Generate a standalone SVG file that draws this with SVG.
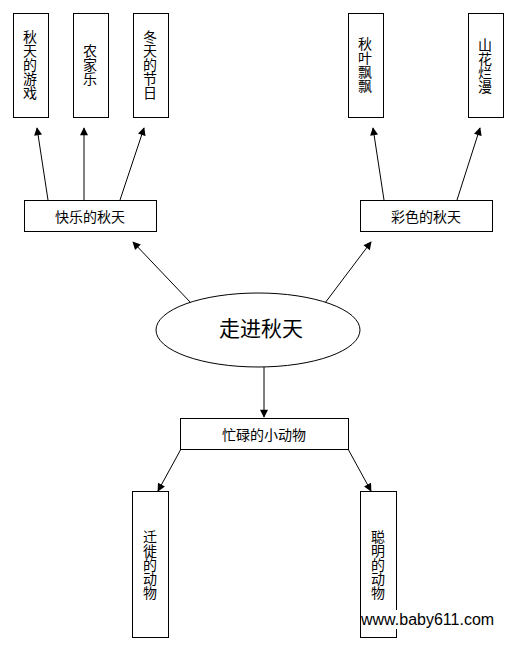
<svg xmlns="http://www.w3.org/2000/svg" width="509" height="646" viewBox="0 0 509 646">
<style>
.box{fill:#fff;stroke:#000;stroke-width:1}
.t{font-family:"Noto Sans CJK SC","Liberation Sans",sans-serif;font-size:14px;fill:#000;text-anchor:middle;dominant-baseline:central}
.v{writing-mode:vertical-rl;font-size:14px}
.big{font-size:21px}
.c{stroke:#000;stroke-width:1;fill:none;marker-end:url(#ah)}
</style>
<defs>
<marker id="ah" viewBox="0 0 10 10" refX="9" refY="5" markerWidth="9" markerHeight="8" markerUnits="userSpaceOnUse" orient="auto">
<path d="M0,0 L10,5 L0,10 z" fill="#000"/>
</marker>
</defs>
<rect width="509" height="646" fill="#fff"/>
<g id="connectors">
<line class="c" x1="48" y1="200" x2="37" y2="128"/>
<line class="c" x1="84" y1="200" x2="84" y2="128"/>
<line class="c" x1="120" y1="200" x2="144" y2="128"/>
<line class="c" x1="384" y1="200" x2="373" y2="128"/>
<line class="c" x1="457" y1="200" x2="480" y2="128"/>
<line class="c" x1="191" y1="303" x2="133" y2="242"/>
<line class="c" x1="325" y1="303" x2="371" y2="242"/>
<line class="c" x1="264" y1="367" x2="264" y2="417"/>
<line class="c" x1="181" y1="449" x2="158" y2="491"/>
<line class="c" x1="348" y1="449" x2="371" y2="491"/>
</g>
<g id="n-game"><rect class="box" x="13.5" y="13.5" width="35" height="104"/><text class="t v" x="30" y="65">秋天的游戏</text></g>
<g id="n-farm"><rect class="box" x="73.5" y="13.5" width="35" height="104"/><text class="t v" x="90" y="65">农家乐</text></g>
<g id="n-winter"><rect class="box" x="133.5" y="13.5" width="35" height="104"/><text class="t v" x="150" y="65">冬天的节日</text></g>
<g id="n-leaves"><rect class="box" x="348.5" y="13.5" width="35" height="104"/><text class="t v" x="365" y="65">秋叶飘飘</text></g>
<g id="n-flowers"><rect class="box" x="468.5" y="13.5" width="35" height="104"/><text class="t v" x="485" y="66">山花烂漫</text></g>
<g id="n-happy"><rect class="box" x="24.5" y="200.5" width="132" height="31"/><text class="t" x="90" y="216">快乐的秋天</text></g>
<g id="n-colorful"><rect class="box" x="360.5" y="200.5" width="132" height="31"/><text class="t" x="426" y="216">彩色的秋天</text></g>
<g id="n-root"><ellipse class="box" cx="258" cy="330" rx="102" ry="37"/><text class="t big" x="261" y="327">走进秋天</text></g>
<g id="n-busy"><rect class="box" x="180.5" y="418.5" width="168" height="31"/><text class="t" x="264" y="434">忙碌的小动物</text></g>
<g id="n-migrate"><rect class="box" x="132.5" y="491.5" width="36" height="146"/><text class="t v" x="150" y="565">迁徙的动物</text></g>
<g id="n-smart"><rect class="box" x="360.5" y="491.5" width="36" height="146"/><text class="t v" x="378" y="565">聪明的动物</text></g>
<g id="watermark"><rect x="361" y="610" width="136" height="19" fill="#fff"/><text x="361" y="625" font-family="Liberation Sans, Arial, sans-serif" font-size="16" fill="#000">www.baby611.com</text></g>
</svg>
